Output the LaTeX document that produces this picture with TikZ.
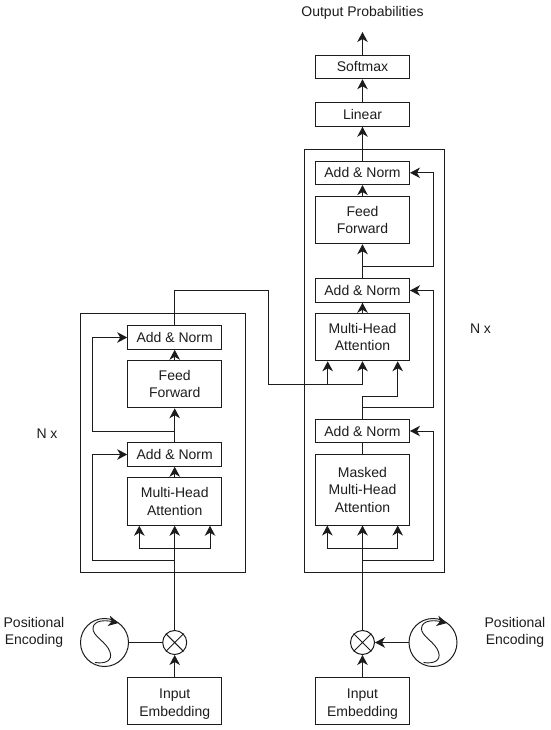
\documentclass[tikz,border=0pt]{standalone}
\usepackage{fontspec}
\setmainfont{Liberation Sans}
\usetikzlibrary{arrows.meta}
\definecolor{ink}{HTML}{1C1C1C}
\tikzset{
  every node/.style={text=ink,font=\fontsize{14}{17.5}\selectfont},
  boxn/.style={draw=ink,line width=1pt,minimum width=94pt,inner sep=0pt,align=center},
  bwide/.style={boxn,minimum height=23.5pt},
  btall/.style={boxn,minimum height=47.5pt},
  bmask/.style={boxn,minimum height=71pt},
  outerbox/.style={draw=ink,line width=1pt,inner sep=0pt},
  wire/.style={draw=ink,line width=1pt},
  arr/.style={wire,-{Stealth[length=10pt,width=10.5pt,inset=3pt]}},
  mixcirc/.style={circle,draw=ink,line width=1pt,minimum size=24pt,inner sep=0pt},
  poscirc/.style={circle,draw=ink,line width=1pt,minimum size=48pt,inner sep=0pt},
  lab/.style={align=center,inner sep=0pt}
}
\begin{document}
\begin{tikzpicture}[x=1pt,y=-1pt]
\useasboundingbox (0,0) rectangle (550,730);
% frames
\node[outerbox,minimum width=164.5pt,minimum height=259pt] (fl) at (163.2,442.5) {};
\node[outerbox,minimum width=140.7pt,minimum height=422pt] (fr) at (374.4,361) {};
% left column
\node[bwide] (lan1) at (174.7,337.5) {Add \& Norm};
\node[btall] (lff) at (174.7,384) {Feed\\Forward};
\node[bwide] (lan2) at (174.7,454.5) {Add \& Norm};
\node[btall] (lmh) at (174.7,501.5) {Multi-Head\\Attention};
\node[btall] (lie) at (174.7,701) {\rule{0pt}{15.5pt}Input\\Embedding};
\node[mixcirc] (lx) at (174.7,642.5) {};
\node[poscirc] (lp) at (104.5,642.5) {};
% right column
\node[bwide] (soft) at (362.5,67) {Softmax};
\node[bwide] (lin) at (362.5,114.5) {Linear};
\node[bwide] (ran1) at (362.5,172.8) {Add \& Norm};
\node[btall] (rff) at (362.5,220) {Feed\\Forward};
\node[bwide] (ran2) at (362.5,290.5) {Add \& Norm};
\node[btall] (rmh) at (362.5,337) {Multi-Head\\Attention};
\node[bwide] (ran3) at (362.5,431) {Add \& Norm};
\node[bmask] (rmm) at (362.5,489.5) {Masked\\Multi-Head\\Attention};
\node[btall] (rie) at (362.5,701) {\rule{0pt}{15.5pt}Input\\Embedding};
\node[mixcirc] (rx) at (362.5,642.5) {};
\node[poscirc] (rp) at (433,642.5) {};
% labels
\node[lab] (out) at (362.5,12.5) {Output Probabilities};
\coordinate (outp) at (362.5,32);
\node[lab] (nl) at (47,433.5) {N x};
\node[lab] (nr) at (480.5,329) {N x};
\node[lab] (pl) at (34,632.5) {Positional\\Encoding};
\node[lab] (pr) at (515,632.5) {Positional\\Encoding};
% mixer crosses
\draw[wire] (lx.45) -- (lx.225) (lx.135) -- (lx.315);
\draw[wire] (rx.45) -- (rx.225) (rx.135) -- (rx.315);
% sine curves
\draw[arr,line width=0.9pt] (95,662.5) .. controls (105,664) and (113,661) .. (110,652) .. controls (107,642) and (92,636) .. (93,628) .. controls (94,620) and (105,620) .. (118.5,623);
\draw[arr,line width=0.9pt] (423.5,662.5) .. controls (433,664) and (441.5,661) .. (438.5,652) .. controls (435.5,642) and (420.5,636) .. (421.5,628) .. controls (422.5,620) and (433.5,620) .. (447,623);
% left connectors
\draw[arr] (lie) -- (lx);
\draw[wire] (lp) -- (lx);
\coordinate (lj3) at (174.7,548.5);
\coordinate (lj3a) at (139.3,548.5);
\coordinate (lj3b) at (210,548.5);
\draw[arr] (lx) -- (lmh);
\draw[arr] (lj3) -- (lj3a) -- (lj3a |- lmh.south);
\draw[arr] (lj3) -- (lj3b) -- (lj3b |- lmh.south);
\coordinate (lc1) at (92.7,560.5);
\coordinate (lc1b) at (174.7,560.5);
\draw[arr] (lc1b) -- (lc1) |- (lan2.west);
\draw[arr] (lmh) -- (lan2);
\draw[arr] (lan2) -- (lff);
\coordinate (lc2) at (92.7,431);
\coordinate (lc2b) at (174.7,431);
\draw[arr] (lc2b) -- (lc2) |- (lan1.west);
\draw[arr] (lff) -- (lan1);
% cross connection
\coordinate (xa) at (174.7,290.5);
\coordinate (xb) at (268.7,290.5);
\coordinate (xc) at (268.7,384.3);
\coordinate (xd) at (362.5,384.3);
\coordinate (xe) at (327.7,384.3);
\draw[arr] (lan1) -- (xa) -- (xb) -- (xc) -- (xd) -- (rmh);
\draw[arr] (xe) -- (xe |- rmh.south);
% right connectors
\draw[arr] (rie) -- (rx);
\draw[arr] (rp) -- (rx);
\coordinate (rj3) at (362.5,548.5);
\coordinate (rj3a) at (327.3,548.5);
\coordinate (rj3b) at (397.7,548.5);
\draw[arr] (rx) -- (rmm);
\draw[arr] (rj3) -- (rj3a) -- (rj3a |- rmm.south);
\draw[arr] (rj3) -- (rj3b) -- (rj3b |- rmm.south);
\coordinate (rc1) at (433,560.5);
\coordinate (rc1b) at (362.5,560.5);
\draw[arr] (rc1b) -- (rc1) |- (ran3.east);
\coordinate (rj4) at (362.5,396);
\coordinate (rj4a) at (397.7,396);
\draw[wire] (rmm) -- (ran3);
\draw[wire] (ran3) -- (rj4);
\draw[arr] (rj4) -- (rj4a) -- (rj4a |- rmh.south);
\coordinate (rc2) at (433,407.7);
\coordinate (rc2b) at (362.5,407.7);
\draw[arr] (rc2b) -- (rc2) |- (ran2.east);
\draw[arr] (rmh) -- (ran2);
\draw[arr] (ran2) -- (rff);
\coordinate (rc3) at (433,266.5);
\coordinate (rc3b) at (362.5,266.5);
\draw[arr] (rc3b) -- (rc3) |- (ran1.east);
\draw[arr] (rff) -- (ran1);
\draw[arr] (ran1) -- (lin);
\draw[arr] (lin) -- (soft);
\draw[arr] (soft) -- (outp);
\end{tikzpicture}
\end{document}
